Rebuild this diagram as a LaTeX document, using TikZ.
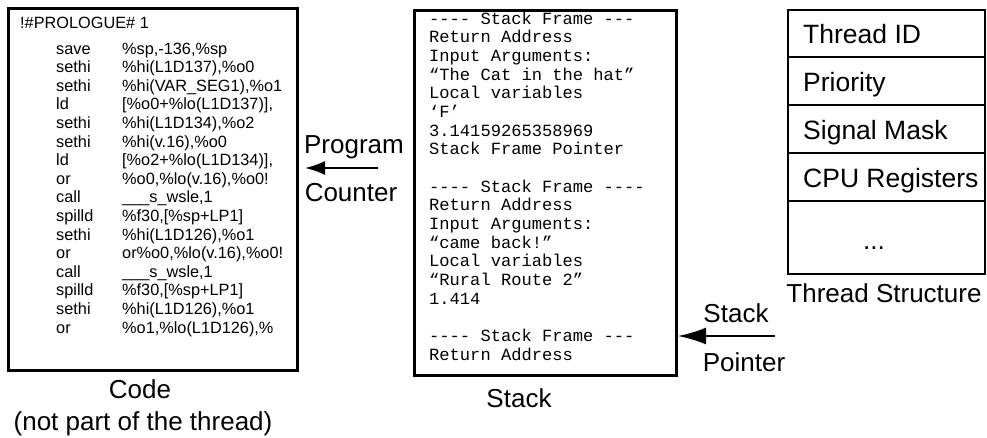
\documentclass[tikz,border=0pt]{standalone}
\usepackage{fontspec}
\setmainfont{Liberation Sans}
\newfontfamily\stackfont{Liberation Mono}
\usetikzlibrary{arrows.meta}

\begin{document}
\begin{tikzpicture}[x=1pt, y=-1pt,
	boxcaption/.style={font=\fontsize{26}{28}\selectfont, anchor=base, inner sep=0},
	codetext/.style={font=\fontsize{16.3}{18}\selectfont, anchor=base west, inner sep=0},
	stacktext/.style={font=\stackfont\fontsize{17.1}{18}\selectfont, anchor=base west, inner sep=0},
	rowtext/.style={font=\fontsize{26.5}{28}\selectfont, anchor=base west, inner sep=0},
	ptr/.style={line width=2pt, -{Latex[length=20pt, width=14pt]}}]
	\useasboundingbox (0,0) rectangle (987,437);
	\node[draw, line width=3.3pt, minimum width=289pt, minimum height=362pt, inner sep=0, anchor=north west] (code) at (7,7) {};
	\node[draw, line width=3.3pt, minimum width=262pt, minimum height=365pt, inner sep=0, anchor=north west] (stack) at (413,9) {};
	\node[draw, line width=1.5pt, minimum width=197pt, minimum height=264pt, inner sep=0, anchor=north west] (thread) at (787,9) {};
	\foreach \y in {57,105,153,201}
		\draw[line width=1.5pt] (thread.west |- 0,\y) -- (thread.east |- 0,\y);

	\node[codetext] (prologue) at (20,28) {!\#PROLOGUE\# 1};
	\foreach \mnem/\oper [count=\i from 0] in {save/{\%sp,-136,\%sp}, sethi/{\%hi(L1D137),\%o0}, sethi/{\%hi(VAR\_SEG1),\%o1}, ld/{[\%o0+\%lo(L1D137)],}, sethi/{\%hi(L1D134),\%o2}, sethi/{\%hi(v.16),\%o0}, ld/{[\%o2+\%lo(L1D134)],}, or/{\%o0,\%lo(v.16),\%o0!}, call/{\_\_\_s\_wsle,1}, spilld/{\%f30,[\%sp+LP1]}, sethi/{\%hi(L1D126),\%o1}, or/{or\%o0,\%lo(v.16),\%o0!}, call/{\_\_\_s\_wsle,1}, spilld/{\%f30,[\%sp+LP1]}, sethi/{\%hi(L1D126),\%o1}, or/{\%o1,\%lo(L1D126),\%}} {
		\node[codetext] (mnem\i) at (56,54+18.6*\i) {\mnem};
		\node[codetext] (oper\i) at (122,54+18.6*\i) {\oper};
	}

	\foreach \txt [count=\i from 0] in {{-}{-}{-}{-} Stack Frame {-}{-}{-}, Return Address, Input Arguments:, “The Cat in the hat”, Local variables, ‘F’, 3.14159265358969, Stack Frame Pointer, {}, {-}{-}{-}{-} Stack Frame {-}{-}{-}{-}, Return Address, Input Arguments:, “came back!”, Local variables, “Rural Route 2”, 1.414, {}, {-}{-}{-}{-} Stack Frame {-}{-}{-}, Return Address}
		\node[stacktext] (frame\i) at (429,24+18.67*\i) {\txt};

	\node[rowtext] (tid) at (803,43) {Thread ID};
	\node[rowtext] (prio) at (803,91) {Priority};
	\node[rowtext] (sigmask) at (803,139) {Signal Mask};
	\node[rowtext] (cpuregs) at (803,187) {CPU Registers};
	\node[boxcaption] (more) at (874,249) {...};

	\node[boxcaption] (progname) at (354,153) {Program};
	\node[boxcaption] (countname) at (351,201) {Counter};
	\coordinate (pcfrom) at (378,168);
	\coordinate (pcto) at (305,168);
	\draw[ptr] (pcfrom) -- (pcto);

	\node[boxcaption] (spname) at (736,322) {Stack};
	\node[boxcaption] (ptrname) at (744,371) {Pointer};
	\coordinate (spfrom) at (775,336);
	\coordinate (spto) at (678,336);
	\draw[ptr, -{Latex[length=28pt, width=17pt]}] (spfrom) -- (spto);

	\node[boxcaption] (codename) at (140,398) {Code};
	\node[boxcaption] (notpart) at (143,430) {(not part of the thread)};
	\node[boxcaption] (stackname) at (519,407) {Stack};
	\node[boxcaption] (threadname) at (884,302) {Thread Structure};
\end{tikzpicture}
\end{document}
